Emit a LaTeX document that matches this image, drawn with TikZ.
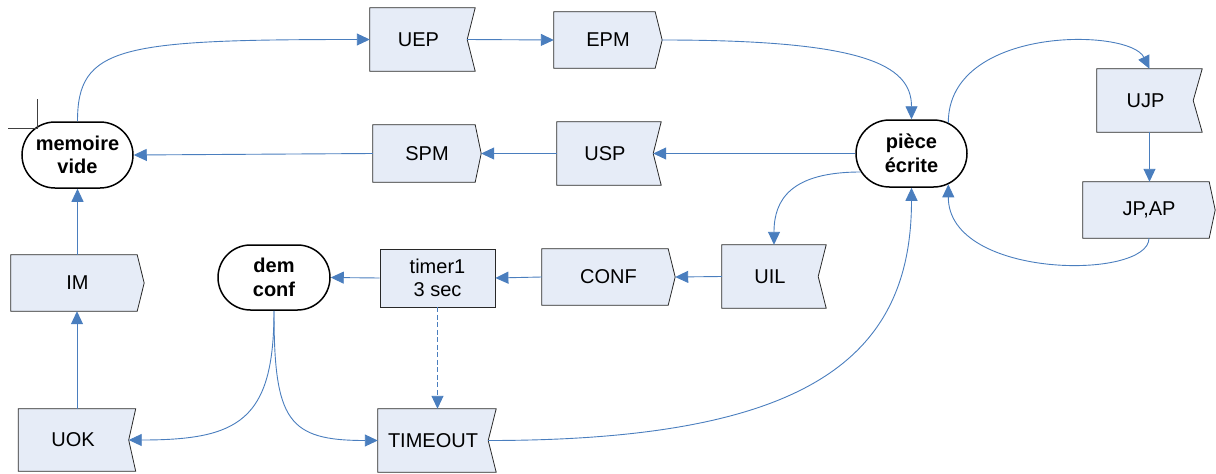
\documentclass[tikz,border=0pt]{standalone}
\usepackage{fontspec}
\setmainfont{Liberation Sans}
\usetikzlibrary{arrows.meta,shapes.misc,backgrounds}

\definecolor{flow}{RGB}{74,126,190}
\definecolor{boxfill}{RGB}{230,236,247}
\definecolor{boxline}{RGB}{40,40,40}

\tikzset{
  flowline/.style={draw=flow, line width=0.9pt, -{Triangle[length=13pt,width=12pt]}},
  timerline/.style={draw=flow, line width=1.8pt, dash pattern=on 5pt off 2.5pt,
    -{Triangle[length=13pt,width=12pt,line width=0.9pt,fill=flow]}},
  statenode/.style={rounded rectangle, draw=black, line width=1.5pt, fill=white,
    font=\bfseries\fontsize{20}{23.5}\selectfont, align=center, inner sep=0pt},
  sigbox/.style={rectangle, inner sep=0pt, font=\fontsize{20}{22.5}\selectfont},
  insig/.style={sigbox, execute at end node={\hspace*{8pt}}},
  outsig/.style={sigbox},
  plainbox/.style={rectangle, inner sep=0pt, fill=boxfill, draw=boxline, line width=0.8pt,
    font=\fontsize{20}{22.5}\selectfont, align=center},
  sigshape/.style={fill=boxfill, draw=boxline, line width=0.8pt, line join=miter},
}

% input signal: notch cut into the right side
\newcommand\insigshape[2]{\path[sigshape] (#1.north west) -- (#1.north east)
  -- ([xshift=-#2pt]#1.east) -- (#1.south east) -- (#1.south west) -- cycle;}
% output signal: point on the right side
\newcommand\outsigshape[2]{\path[sigshape] (#1.north west) -- ([xshift=-#2pt]#1.north east)
  -- (#1.east) -- ([xshift=-#2pt]#1.south east) -- (#1.south west) -- cycle;}

\begin{document}
\begin{tikzpicture}[x=1pt,y=-1pt]
\useasboundingbox (0,0) rectangle (1216,474);

% states
\node[statenode, minimum width=111pt, minimum height=66pt] (mv) at (77.5,155) {memoire\\vide};
\node[statenode, minimum width=111pt, minimum height=67pt] (pe) at (911.5,153.5) {pièce\\écrite};
\node[statenode, minimum width=112pt, minimum height=65pt] (dc) at (274,277.5) {dem\\conf};

% signals
\node[insig,  minimum width=105pt, minimum height=63pt] (uep)  at (422.5,39.5) {UEP};
\node[outsig, minimum width=108pt, minimum height=56pt] (epm)  at (608,40) {EPM};
\node[outsig, minimum width=108pt, minimum height=57pt] (spm)  at (427,153.5) {SPM};
\node[insig,  minimum width=104pt, minimum height=63pt] (usp)  at (609,153.5) {USP};
\node[insig,  minimum width=105pt, minimum height=63pt] (ujp)  at (1149.5,100.5) {UJP};
\node[outsig, minimum width=132pt, minimum height=56pt] (jpap) at (1149,210) {JP,AP};
\node[outsig, minimum width=133pt, minimum height=56pt] (conf) at (608.5,277) {CONF};
\node[insig,  minimum width=104pt, minimum height=63pt] (uil)  at (774,276.5) {UIL};
\node[outsig, minimum width=133pt, minimum height=56pt] (im)   at (77.5,283) {IM};
\node[insig,  minimum width=117pt, minimum height=62pt] (uok)  at (77,440) {UOK};
\node[insig,  minimum width=118pt, minimum height=63pt] (to)   at (437,440.5) {TIMEOUT};

% timer
\node[plainbox, minimum width=115pt, minimum height=58pt] (timer) at (437.5,278) {timer1\\3 sec};

\begin{scope}[on background layer]
  \insigshape{uep}{8}
  \insigshape{usp}{8}
  \insigshape{ujp}{9}
  \insigshape{uil}{8}
  \insigshape{uok}{7}
  \insigshape{to}{8}
  \outsigshape{epm}{7}
  \outsigshape{spm}{6}
  \outsigshape{jpap}{6}
  \outsigshape{conf}{7}
  \outsigshape{im}{7}
\end{scope}

% corner mark
\draw[black!75, line width=0.8pt] (37,99) -- (37,128) -- (8,128);

% transitions
\draw[flowline] (mv.north) .. controls +(0,-75) and +(-250,0) .. (uep.west);
\draw[flowline] ([xshift=-8pt]uep.east) -- (epm.west);
\draw[flowline] (epm.east) .. controls +(200,0) and +(0,-55) .. (pe.north);
\draw[flowline] (pe.west) -- ([xshift=-8pt]usp.east);
\draw[flowline] (usp.west) -- (spm.east);
\draw[flowline] (spm.west) -- (mv.east);
\draw[flowline] (im.north) -- (mv.south);
\draw[flowline] (uok.north) -- (uok.north |- im.south);

\draw[flowline] (pe.200) .. controls +(-70,0) and +(0,-45) .. (uil.north);
\draw[flowline] (uil.west) -- (conf.east);
\draw[flowline] (conf.west) -- (timer.east);
\draw[flowline] (timer.west) -- (dc.east);
\draw[timerline] (timer.south) -- (timer.south |- to.north);

\draw[flowline] (dc.south) .. controls +(0,110) and +(110,0) .. ([xshift=-7pt]uok.east);
\draw[flowline] (dc.south) .. controls +(0,110) and +(-90,0) .. (to.west);
\draw[flowline] ([xshift=-8pt]to.east) .. controls +(320,0) and +(0,170) .. (pe.south);

\draw[flowline] (pe.40) .. controls +(0,-97) and +(-20,-41) .. (ujp.north);
\draw[flowline] (ujp.south) -- (ujp.south |- jpap.north);
\draw[flowline] (jpap.south) .. controls +(0,42) and +(0,95) .. (pe.-40);
\end{tikzpicture}
\end{document}
